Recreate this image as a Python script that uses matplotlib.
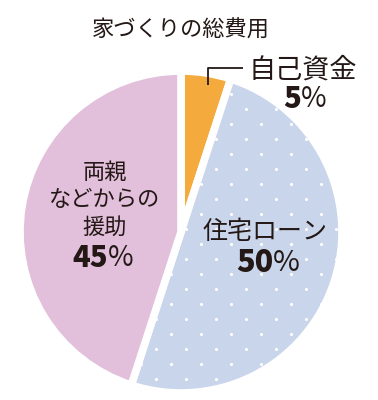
import matplotlib.pyplot as plt
import numpy as np

plt.rcParams['font.family'] = ['Noto Sans CJK JP', 'DejaVu Sans']

title = "家づくりの総費用"
labels = ["自己資金", "住宅ローン", "両親\nなどからの\n援助"]
values = [5, 50, 45]
colors = ["#F4AA3C", "#C9D5EA", "#E2BFDA"]
ink = "#231815"

fig = plt.figure(figsize=(3.78, 4.0), dpi=100)
ax = fig.add_axes([0, 0, 1, 1])

cx, cy, r = 181, 168, 161
wedges, _ = ax.pie(values, colors=colors, startangle=90, counterclock=False,
                   center=(cx, cy), radius=r, frame=True,
                   wedgeprops=dict(edgecolor='white', linewidth=5.5))
ax.set_xlim(0, 378)
ax.set_ylim(0, 400)
ax.axis('off')

# white dot texture on the loan slice
gx, gy = [], []
for i, y in enumerate(np.arange(111 - 300, 400, 15)):
    off = 0 if i % 2 == 0 else 15
    for x in np.arange(186 - 300 + off, 400, 30):
        gx.append(x)
        gy.append(y)
dots = ax.scatter(gx, gy, s=5, color='white', linewidths=0, zorder=3)
dots.set_clip_path(wedges[1])

ax.text(181, 370, title, ha='center', va='center', fontsize=16, color=ink)

# own funds label with leader line
ax.plot([208, 208, 243], [315, 332, 332], color=ink, lw=1.3, solid_capstyle='butt')
ax.text(303, 330, labels[0], ha='center', va='center', fontsize=19.5, color=ink)
ax.text(301, 301, "5", ha='right', va='center', fontsize=21, fontweight='heavy', color=ink)
ax.text(301, 301, "%", ha='left', va='center', fontsize=20, color=ink)

# loan label
ax.text(265, 168, labels[1], ha='center', va='center', fontsize=18, color=ink)
ax.text(273, 137, str(values[1]), ha='right', va='center', fontsize=22, fontweight='heavy', color=ink)
ax.text(273, 137, "%", ha='left', va='center', fontsize=21, color=ink)

# parents label
ax.text(105, 200, labels[2], ha='center', va='center', fontsize=16, color=ink,
        linespacing=1.25)
ax.text(108, 142, str(values[2]), ha='right', va='center', fontsize=21, fontweight='heavy', color=ink)
ax.text(108, 142, "%", ha='left', va='center', fontsize=20, color=ink)

fig.savefig("out.png", dpi=100)
